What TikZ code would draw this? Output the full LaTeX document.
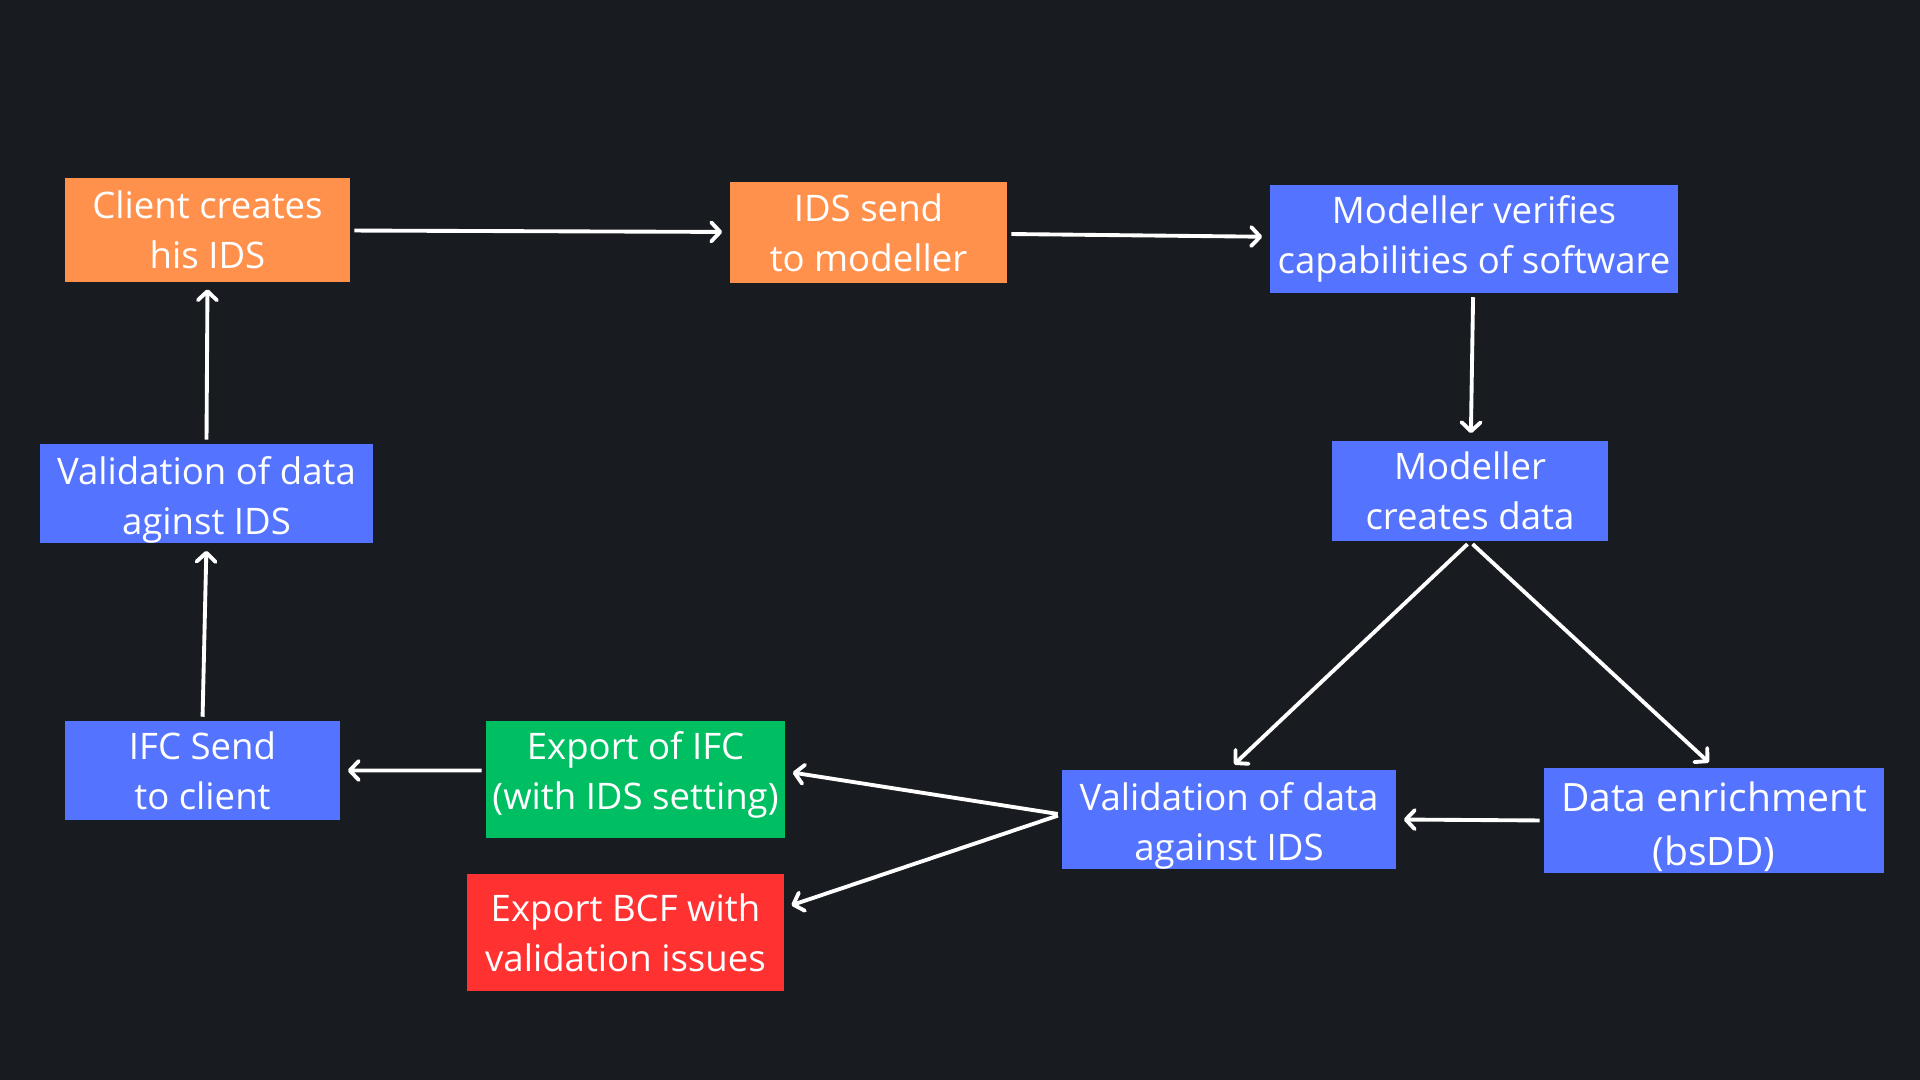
\documentclass[tikz,border=0pt]{standalone}
\usepackage{fontspec}
\setmainfont{Open Sans}
\usepackage{tikz}
\usetikzlibrary{arrows,arrows.meta}
\definecolor{bgdark}{HTML}{181B1F}
\definecolor{boxblue}{HTML}{5473FF}
\definecolor{boxorange}{HTML}{FF914D}
\definecolor{boxgreen}{HTML}{00BF63}
\definecolor{boxred}{HTML}{FF3131}
\newcommand{\padtop}[1]{\rule{0pt}{#1}}
\newcommand{\padbot}[1]{\rule[-#1]{0pt}{#1}}
\tikzstyle{box} = [rectangle, inner sep=0pt, align=center, text=white, font=\fontsize{10.4}{14.2}\selectfont]
\tikzstyle{edge} = [draw=white, line width=1.1pt, shorten >=2pt, shorten <=1pt,
    >={Straight Barb[round, length=0.9mm, width=1.9mm]}]

\begin{document}
\begin{tikzpicture}[x=0.01cm, y=-0.01cm]
    \fill[bgdark] (0,0) rectangle (1920,1080);
    \node[box, fill=boxorange, minimum width=2.85cm, minimum height=1.03cm] (client) at (207.5,230) {Client creates\\his IDS};
    \node[box, fill=boxorange, minimum width=2.77cm, minimum height=1.01cm] (send) at (868.5,232.5) {IDS send\\to modeller};
    \node[box, fill=boxblue, minimum width=4.08cm, minimum height=1.08cm] (verify) at (1474,239) {Modeller verifies\\capabilities of software};
    \node[box, fill=boxblue, minimum width=2.76cm, minimum height=1.00cm] (creates) at (1470,491) {Modeller\\creates data};
    \node[box, fill=boxblue, minimum width=3.34cm, minimum height=0.97cm] (valr) at (1229,819.5) {\padtop{11.5pt}Validation of data\\against IDS};
    \node[box, fill=boxblue, minimum width=3.40cm, minimum height=1.05cm, font=\fontsize{11.1}{15.4}\selectfont] (enrich) at (1714,820.5) {\padtop{12pt}Data enrichment\\(bsDD)};
    \node[box, fill=boxgreen, minimum width=2.99cm, minimum height=1.17cm] (ifc) at (635.5,779.5) {Export of IFC\\(with IDS setting)\padbot{5.3pt}};
    \node[box, fill=boxred, minimum width=3.17cm, minimum height=1.17cm] (bcf) at (625.5,932.5) {Export BCF with\\validation issues};
    \node[box, fill=boxblue, minimum width=2.75cm, minimum height=0.99cm] (ifcsend) at (202.5,770.5) {IFC Send\\to client};
    \node[box, fill=boxblue, minimum width=3.33cm, minimum height=0.95cm] (vall) at (206.5,493.5) {\padtop{11.5pt}Validation of data\\aginst IDS};
    \draw[edge]
    (client) edge[style = ->] (send)
    (send) edge[style = ->] (verify)
    (verify) edge[style = ->] (creates)
    (creates.south) edge[style = ->] (valr.north)
    (creates.south) edge[style = ->] (enrich.north)
    (enrich.west) edge[style = ->] (valr.east)
    ([yshift=0.05cm]valr.west) edge[style = ->] ([yshift=0.08cm]ifc.east)
    ([yshift=0.05cm]valr.west) edge[style = ->] ([yshift=0.25cm]bcf.east)
    ([yshift=0.09cm]ifc.west) edge[style = ->] (ifcsend.east)
    (ifcsend.north) edge[style = ->] (vall.south)
    (vall.north) edge[style = ->] (client.south)
    ;
\end{tikzpicture}
\end{document}
